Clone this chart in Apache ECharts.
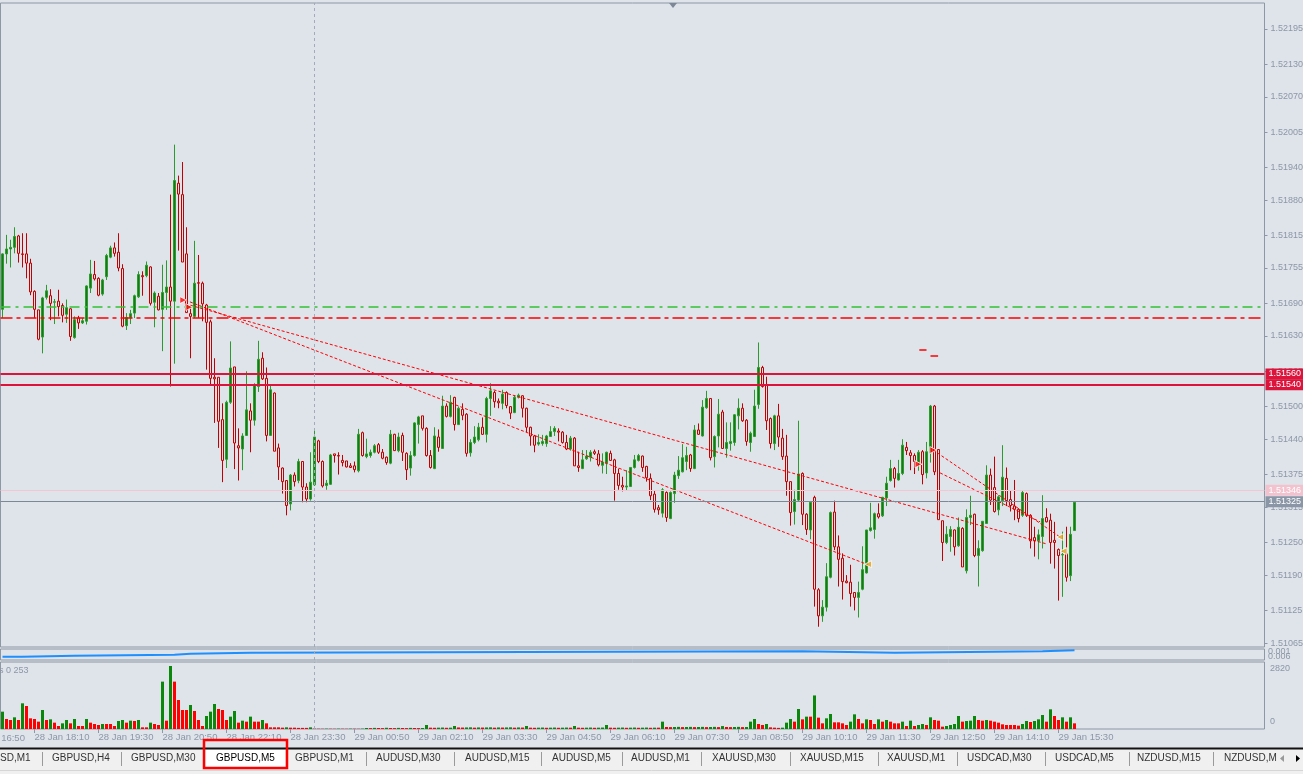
<!DOCTYPE html>
<html><head><meta charset="utf-8">
<script src="https://cdn.jsdelivr.net/npm/echarts@6/dist/echarts.min.js"></script>
<style>html,body{margin:0;padding:0;background:#dfe3ea;overflow:hidden}#c{width:1303px;height:774px}</style>
</head><body><div id="c"></div>
<script>
// ---------- DATA (GBPUSD, M5) ----------
// each row: [open, high, low, close]; first bar = 28 Jan 17:30
const ohlc = [
[1.51679,1.51782,1.51663,1.51781],[1.51781,1.51816,1.51763,1.51790],[1.51790,1.51807,1.51756,1.51793],[1.51793,1.51830,1.51782,1.51813],
[1.51814,1.51816,1.51765,1.51782],[1.51781,1.51819,1.51756,1.51780],[1.51781,1.51819,1.51736,1.51764],[1.51764,1.51772,1.51705,1.51711],
[1.51712,1.51714,1.51663,1.51679],[1.51678,1.51678,1.51622,1.51624],[1.51628,1.51702,1.51598,1.51700],[1.51701,1.51724,1.51697,1.51713],
[1.51704,1.51716,1.51659,1.51690],[1.51692,1.51698,1.51652,1.51693],[1.51694,1.51715,1.51666,1.51684],[1.51686,1.51690,1.51655,1.51668],
[1.51670,1.51697,1.51654,1.51682],[1.51680,1.51681,1.51621,1.51629],[1.51627,1.51666,1.51625,1.51660],[1.51663,1.51667,1.51643,1.51654],
[1.51654,1.51663,1.51652,1.51658],[1.51657,1.51723,1.51651,1.51722],[1.51718,1.51770,1.51709,1.51744],[1.51743,1.51768,1.51732,1.51735],
[1.51736,1.51738,1.51703,1.51705],[1.51707,1.51735,1.51704,1.51733],[1.51739,1.51781,1.51733,1.51778],[1.51775,1.51796,1.51773,1.51792],
[1.51792,1.51802,1.51776,1.51782],[1.51784,1.51819,1.51749,1.51755],[1.51754,1.51762,1.51646,1.51648],[1.51649,1.51672,1.51641,1.51664],
[1.51664,1.51678,1.51652,1.51671],[1.51672,1.51706,1.51663,1.51704],[1.51702,1.51749,1.51700,1.51743],[1.51741,1.51749,1.51704,1.51739],
[1.51741,1.51767,1.51738,1.51760],[1.51757,1.51758,1.51686,1.51690],[1.51692,1.51712,1.51646,1.51709],[1.51703,1.51709,1.51677,1.51678],
[1.51679,1.51761,1.51602,1.51710],[1.51710,1.51769,1.51678,1.51720],[1.51720,1.51890,1.51537,1.51694],[1.51694,1.51982,1.51579,1.51916],
[1.51911,1.51925,1.51787,1.51891],[1.51890,1.51950,1.51766,1.51766],[1.51781,1.51830,1.51673,1.51673],[1.51671,1.51681,1.51589,1.51666],
[1.51666,1.51805,1.51663,1.51727],[1.51728,1.51779,1.51663,1.51727],[1.51727,1.51730,1.51657,1.51689],[1.51687,1.51689,1.51568,1.51655],
[1.51656,1.51660,1.51540,1.51552],[1.51554,1.51589,1.51470,1.51551],[1.51554,1.51554,1.51424,1.51473],[1.51476,1.51506,1.51361,1.51401],
[1.51403,1.51511,1.51387,1.51508],[1.51508,1.51620,1.51505,1.51571],[1.51573,1.51573,1.51385,1.51433],[1.51428,1.51460,1.51364,1.51424],
[1.51422,1.51451,1.51383,1.51446],[1.51447,1.51565,1.51446,1.51494],[1.51492,1.51506,1.51416,1.51475],[1.51475,1.51543,1.51465,1.51540],
[1.51537,1.51621,1.51527,1.51587],[1.51589,1.51600,1.51549,1.51551],[1.51552,1.51572,1.51436,1.51447],[1.51447,1.51540,1.51447,1.51531],
[1.51525,1.51526,1.51418,1.51418],[1.51424,1.51432,1.51365,1.51389],[1.51387,1.51388,1.51340,1.51362],[1.51364,1.51364,1.51300,1.51318],
[1.51321,1.51376,1.51309,1.51374],[1.51374,1.51379,1.51353,1.51362],[1.51364,1.51404,1.51359,1.51399],[1.51399,1.51400,1.51324,1.51352],
[1.51352,1.51359,1.51324,1.51330],[1.51330,1.51416,1.51327,1.51361],[1.51356,1.51459,1.51354,1.51444],[1.51437,1.51439,1.51396,1.51399],
[1.51399,1.51401,1.51351,1.51354],[1.51355,1.51365,1.51347,1.51359],[1.51357,1.51413,1.51356,1.51411],[1.51413,1.51413,1.51397,1.51410],
[1.51410,1.51416,1.51375,1.51409],[1.51401,1.51411,1.51390,1.51397],[1.51400,1.51400,1.51388,1.51389],[1.51391,1.51396,1.51387,1.51388],
[1.51391,1.51399,1.51379,1.51384],[1.51382,1.51459,1.51379,1.51449],[1.51452,1.51454,1.51408,1.51410],[1.51408,1.51441,1.51405,1.51413],
[1.51410,1.51421,1.51406,1.51416],[1.51416,1.51431,1.51414,1.51428],[1.51430,1.51433,1.51413,1.51416],[1.51416,1.51422,1.51403,1.51405],
[1.51407,1.51408,1.51393,1.51397],[1.51396,1.51457,1.51394,1.51449],[1.51449,1.51450,1.51419,1.51419],[1.51419,1.51452,1.51416,1.51444],
[1.51447,1.51452,1.51400,1.51416],[1.51414,1.51416,1.51365,1.51384],[1.51387,1.51418,1.51373,1.51410],[1.51410,1.51471,1.51408,1.51470],
[1.51467,1.51483,1.51432,1.51481],[1.51483,1.51483,1.51456,1.51460],[1.51460,1.51462,1.51408,1.51410],[1.51410,1.51420,1.51386,1.51388],
[1.51386,1.51462,1.51385,1.51446],[1.51444,1.51458,1.51417,1.51425],[1.51423,1.51520,1.51422,1.51501],[1.51501,1.51506,1.51480,1.51482],
[1.51482,1.51521,1.51480,1.51508],[1.51517,1.51518,1.51456,1.51467],[1.51467,1.51500,1.51466,1.51497],[1.51495,1.51506,1.51475,1.51484],
[1.51486,1.51488,1.51408,1.51414],[1.51415,1.51440,1.51408,1.51434],[1.51434,1.51464,1.51431,1.51444],[1.51439,1.51470,1.51436,1.51462],
[1.51462,1.51480,1.51448,1.51449],[1.51449,1.51518,1.51434,1.51515],[1.51515,1.51543,1.51483,1.51529],[1.51526,1.51529,1.51498,1.51509],
[1.51510,1.51515,1.51497,1.51507],[1.51506,1.51531,1.51495,1.51523],[1.51526,1.51528,1.51497,1.51502],[1.51500,1.51501,1.51477,1.51488],
[1.51489,1.51521,1.51488,1.51517],[1.51517,1.51524,1.51515,1.51521],[1.51520,1.51521,1.51480,1.51497],[1.51497,1.51498,1.51453,1.51462],
[1.51462,1.51463,1.51428,1.51446],[1.51446,1.51448,1.51416,1.51429],[1.51431,1.51449,1.51428,1.51434],[1.51432,1.51448,1.51428,1.51436],
[1.51432,1.51448,1.51426,1.51446],[1.51445,1.51464,1.51445,1.51454],[1.51454,1.51464,1.51446,1.51460],[1.51455,1.51460,1.51436,1.51453],
[1.51453,1.51455,1.51432,1.51434],[1.51434,1.51448,1.51420,1.51422],[1.51422,1.51446,1.51419,1.51442],[1.51442,1.51444,1.51391,1.51391],
[1.51391,1.51417,1.51380,1.51388],[1.51386,1.51420,1.51385,1.51402],[1.51404,1.51420,1.51402,1.51409],[1.51407,1.51420,1.51399,1.51416],
[1.51417,1.51421,1.51411,1.51414],[1.51413,1.51420,1.51390,1.51393],[1.51392,1.51414,1.51377,1.51398],[1.51396,1.51417,1.51376,1.51416],
[1.51414,1.51419,1.51400,1.51401],[1.51402,1.51404,1.51327,1.51377],[1.51377,1.51386,1.51347,1.51355],[1.51355,1.51371,1.51344,1.51352],
[1.51352,1.51383,1.51345,1.51354],[1.51353,1.51388,1.51352,1.51388],[1.51388,1.51411,1.51386,1.51402],[1.51401,1.51413,1.51399,1.51410],
[1.51409,1.51410,1.51380,1.51388],[1.51390,1.51391,1.51362,1.51369],[1.51368,1.51377,1.51328,1.51336],[1.51339,1.51345,1.51305,1.51311],
[1.51314,1.51319,1.51301,1.51310],[1.51304,1.51350,1.51296,1.51347],[1.51342,1.51344,1.51288,1.51296],[1.51294,1.51344,1.51293,1.51342],
[1.51340,1.51380,1.51323,1.51374],[1.51373,1.51409,1.51367,1.51383],[1.51380,1.51431,1.51379,1.51406],[1.51399,1.51426,1.51383,1.51410],
[1.51411,1.51413,1.51380,1.51386],[1.51386,1.51466,1.51385,1.51457],[1.51457,1.51469,1.51448,1.51449],[1.51446,1.51512,1.51445,1.51499],
[1.51498,1.51529,1.51496,1.51515],[1.51515,1.51515,1.51401,1.51406],[1.51408,1.51447,1.51388,1.51445],[1.51446,1.51514,1.51425,1.51486],
[1.51490,1.51494,1.51422,1.51423],[1.51423,1.51471,1.51406,1.51434],[1.51432,1.51471,1.51419,1.51436],[1.51434,1.51486,1.51428,1.51485],
[1.51483,1.51515,1.51458,1.51497],[1.51497,1.51506,1.51472,1.51474],[1.51475,1.51477,1.51428,1.51436],[1.51434,1.51454,1.51417,1.51451],
[1.51445,1.51531,1.51444,1.51501],[1.51504,1.51618,1.51496,1.51572],[1.51572,1.51575,1.51535,1.51537],[1.51539,1.51555,1.51457,1.51474],
[1.51478,1.51480,1.51423,1.51432],[1.51432,1.51485,1.51420,1.51483],[1.51483,1.51505,1.51426,1.51444],[1.51442,1.51459,1.51402,1.51408],
[1.51409,1.51448,1.51336,1.51362],[1.51362,1.51362,1.51281,1.51305],[1.51307,1.51347,1.51283,1.51329],[1.51328,1.51474,1.51325,1.51376],
[1.51377,1.51379,1.51282,1.51302],[1.51302,1.51304,1.51264,1.51274],[1.51273,1.51325,1.51256,1.51324],[1.51333,1.51336,1.51132,1.51164],
[1.51163,1.51166,1.51095,1.51115],[1.51115,1.51144,1.51104,1.51131],[1.51131,1.51212,1.51123,1.51187],[1.51186,1.51307,1.51184,1.51305],
[1.51306,1.51327,1.51236,1.51242],[1.51242,1.51263,1.51169,1.51219],[1.51221,1.51230,1.51145,1.51178],[1.51179,1.51190,1.51175,1.51176],
[1.51177,1.51209,1.51132,1.51156],[1.51158,1.51158,1.51125,1.51149],[1.51149,1.51178,1.51112,1.51158],[1.51164,1.51243,1.51162,1.51200],
[1.51194,1.51273,1.51193,1.51273],[1.51272,1.51323,1.51270,1.51277],[1.51274,1.51305,1.51257,1.51303],[1.51303,1.51322,1.51294,1.51297],
[1.51299,1.51334,1.51297,1.51333],[1.51332,1.51371,1.51317,1.51359],[1.51364,1.51402,1.51362,1.51386],[1.51386,1.51389,1.51351,1.51368],
[1.51365,1.51402,1.51364,1.51377],[1.51377,1.51440,1.51374,1.51429],[1.51425,1.51435,1.51411,1.51419],[1.51415,1.51420,1.51383,1.51410],
[1.51410,1.51414,1.51376,1.51399],[1.51397,1.51420,1.51382,1.51416],[1.51417,1.51420,1.51357,1.51375],[1.51378,1.51435,1.51368,1.51417],
[1.51415,1.51503,1.51397,1.51501],[1.51501,1.51503,1.51374,1.51380],[1.51421,1.51421,1.51292,1.51292],[1.51290,1.51290,1.51216,1.51250],
[1.51250,1.51280,1.51247,1.51265],[1.51261,1.51280,1.51233,1.51274],[1.51273,1.51274,1.51226,1.51242],[1.51244,1.51296,1.51242,1.51278],
[1.51276,1.51278,1.51205,1.51205],[1.51198,1.51311,1.51193,1.51296],[1.51296,1.51336,1.51282,1.51300],[1.51302,1.51303,1.51223,1.51226],
[1.51226,1.51254,1.51169,1.51239],[1.51235,1.51289,1.51233,1.51289],[1.51285,1.51392,1.51284,1.51374],[1.51374,1.51386,1.51319,1.51328],
[1.51351,1.51408,1.51305,1.51307],[1.51310,1.51337,1.51300,1.51334],[1.51327,1.51429,1.51317,1.51370],[1.51368,1.51388,1.51317,1.51327],
[1.51329,1.51346,1.51307,1.51318],[1.51317,1.51365,1.51291,1.51311],[1.51311,1.51313,1.51287,1.51294],[1.51300,1.51346,1.51297,1.51342],
[1.51340,1.51342,1.51297,1.51300],[1.51300,1.51302,1.51239,1.51253],[1.51259,1.51279,1.51224,1.51253],[1.51253,1.51274,1.51219,1.51264],
[1.51261,1.51337,1.51239,1.51294],[1.51296,1.51313,1.51287,1.51288],[1.51291,1.51303,1.51211,1.51250],[1.51254,1.51288,1.51202,1.51250],
[1.51237,1.51239,1.51143,1.51226],[1.51227,1.51270,1.51150,1.51228],[1.51229,1.51279,1.51178,1.51186],[1.51189,1.51279,1.51179,1.51265],
[1.51272,1.51325,1.51272,1.51324]
];
// tick volume per bar
const volumes = [
776,448,403,523,403,1150,1030,478,448,329, 851,403,433,284,134,254,403,254,448,134,
134,448,284,224,179,224,224,224,134,358, 403,284,373,358,403,75,75,284,224,179,
2121,373,2822,2121,1299,851,851,1075,806,403, 134,582,776,1120,896,851,403,553,806,284,
373,329,553,329,329,403,254,75,75,75, 60,75,60,60,50,50,50,75,15,12,
10,15,12,10,15,12,10,15,12,10, 15,45,40,50,45,40,55,45,40,50,
45,40,50,45,40,45,179,60,55,60, 65,55,60,134,70,65,70,75,60,70,
65,70,75,60,70,65,70,75,60,70, 65,134,60,55,60,65,55,60,65,55,
60,65,60,134,60,55,60,65,55,60, 65,179,60,55,60,65,55,60,65,55,
60,65,55,60,60,329,90,85,90,95, 85,90,95,85,90,95,85,90,95,85,
130,90,85,90,95,85,90,329,448,224, 179,224,75,60,50,60,284,448,329,896,
433,553,553,1503,508,254,478,672,299,299, 254,179,329,657,448,254,433,403,224,433,
329,403,329,254,254,329,134,373,134,179, 224,179,523,403,373,105,134,179,224,582,
329,358,373,582,403,373,403,373,329,284, 209,179,179,179,149,224,358,314,358,433,
627,329,881,582,403,523,329,523,254
];
// step indicator in the small pane (change-point index, value)
const indicatorSteps = [[0,0.0021],[5,0.00274],[18,0.00337],[43,0.0040],[47,0.00465],[62,0.00554],[200,0.00465],[223,0.00554],[260,0.00617],[268,0.00617]];
const priceTicks = [1.52195,1.52130,1.52070,1.52005,1.51940,1.51880,1.51815,1.51755,1.51690,1.51630,1.51565,1.51500,1.51440,1.51375,1.51315,1.51250,1.51190,1.51125,1.51065];
const hLevels = [1.51683, 1.51663, 1.51560, 1.51540, 1.51346, 1.51325];
const hLevelTexts = ['', '', '1.51560', '1.51540', '1.51346', '1.51325'];
// trend lines: [[barIndex, price], [barIndex, price]]
const trendLines = [
  [[45.7,1.51696],[216.4,1.51209]],
  [[45.7,1.51689],[261.2,1.51247]],
  [[232.7,1.51420],[264.4,1.51260]],
  [[234.4,1.51378],[259.4,1.51288]]
];
const shortDashes = [[[229.2,1.51604],[231.0,1.51604]],[[232.0,1.51593],[233.9,1.51593]]];
const yellowMarks = [[216.4,1.51210],[264.4,1.51260],[265.2,1.51234]];
const redArrows = [[45.2,1.51696],[46.7,1.51683],[229.0,1.51394],[232.7,1.51420]];
const daySeparatorIndex = 78;
const volMaxLabel = '2820';
const tabNames = ['SD,M1','GBPUSD,H4','GBPUSD,M30','GBPUSD,M5','GBPUSD,M1','AUDUSD,M30','AUDUSD,M15','AUDUSD,M5','AUDUSD,M1','XAUUSD,M30','XAUUSD,M15','XAUUSD,M1','USDCAD,M30','USDCAD,M5','NZDUSD,M15','NZDUSD,M'];

// ---------- CATEGORIES (5-minute bars from 28 Jan 17:30) ----------
const nSlots = 316;
const cats = [];
for (let i = 0; i < nSlots; i++) {
  const t = 17 * 60 + 30 + 5 * i;
  const d = 28 + Math.floor(t / 1440), m = t % 1440;
  cats.push(d + ' Jan ' + String(Math.floor(m / 60)).padStart(2, '0') + ':' + String(m % 60).padStart(2, '0'));
}
const lastBar = ohlc.length - 1;

// ---------- STYLES / LAYOUT ----------
const BG = '#dfe3ea', AX = '#8d97a7', FRAME = '#8e97a4', FONT = 'Liberation Sans';
const levelStyles = [
  {color:'#33c233', width:1.5, type:[10,5,3,5]},
  {color:'#ff0000', width:1.5, type:[12,4,4,4]},
  {color:'#dc143c', width:2, type:'solid'},
  {color:'#dc143c', width:2, type:'solid'},
  {color:'#f3c6d2', width:1, type:'solid'},
  {color:'#7b8898', width:1, type:'solid'}
];
const levelBox = [null, null, '#dc143c', '#dc143c', '#f2c3cf', '#8a95a5'];
const sepLine = {symbol:['none','none'], silent:true, label:{show:false},
  lineStyle:{color:'#a3abb7', type:[3,3], width:1}, data:[{xAxis: daySeparatorIndex}]};

const tabX = [0,52,131,216,295,376,465,552,631,712,800,887,967,1055,1137,1224];
const tabSep = [42,121,204,287,366,454,541,622,701,790,878,957,1045,1129,1213];

const chart = echarts.init(document.getElementById('c'), null, {renderer:'canvas'});
const grids = [
  {left:0.5, top:3, width:1264, height:644},
  {left:0.5, top:649, width:1264, height:11},
  {left:0.5, top:662, width:1264, height:67}
].map(g => Object.assign(g, {show:true, borderColor:FRAME, borderWidth:1, backgroundColor:'transparent',
  containLabel:false, outerBoundsMode:'none'}));

const labelAt = (i) => i % 16 === 8 && i <= lastBar;
const catAxis = (gi, withLabels) => ({
  type:'category', gridIndex:gi, data:cats, boundaryGap:true,
  axisLine:{show:false, onZero:false},
  axisTick:{show:withLabels, alignWithLabel:true, length:4, lineStyle:{color:AX}, interval:labelAt},
  axisLabel:{show:withLabels, interval:labelAt, align:'left', margin:3,
    color:AX, fontFamily:FONT, fontSize:9.5},
  splitLine:{show:false}
});

const series = [];
series.push({
  type:'candlestick', xAxisIndex:0, yAxisIndex:0, barWidth:2,
  data: ohlc.map(r => [r[0], r[3], r[2], r[1]]),
  itemStyle:{color:'#17791a', color0:BG, borderColor:'#2b9c2b', borderColor0:'#c10000', borderWidth:1},
  markLine:{
    symbol:['none','none'], silent:true, precision:5,
    data: hLevels.map((v, i) => ({
      yAxis: v,
      lineStyle: levelStyles[i],
      label: levelBox[i] ? {show:true, position:'end', distance:1, formatter: hLevelTexts[i],
        backgroundColor: levelBox[i], color:'#ffffff', fontFamily:FONT, fontSize:9,
        padding:[1,5,1,3], lineHeight:9} : {show:false}
    })).concat([{xAxis: daySeparatorIndex, lineStyle:{color:'#a3abb7', type:[3,3], width:1}, label:{show:false}}])
  },
  z:3
});
trendLines.forEach(seg => series.push({
  type:'line', xAxisIndex:3, yAxisIndex:0, data:seg, symbol:'none', silent:true,
  lineStyle:{color:'#ff0000', width:1, type:[3,2]}, z:4
}));
shortDashes.forEach(seg => series.push({
  type:'line', xAxisIndex:3, yAxisIndex:0, data:seg, symbol:'none', silent:true,
  lineStyle:{color:'#ff0000', width:1.5}, z:4
}));
series.push({type:'scatter', xAxisIndex:3, yAxisIndex:0, data:yellowMarks, symbol:'triangle', symbolRotate:90,
  symbolSize:7, itemStyle:{color:'#e2a21c', borderColor:'#ffffff', borderWidth:1}, z:5});
series.push({type:'scatter', xAxisIndex:3, yAxisIndex:0, data:redArrows, symbol:'triangle', symbolRotate:-90,
  symbolSize:7, itemStyle:{color:'#ff0000', borderColor:'#ffffff', borderWidth:1}, z:5});
series.push({type:'line', xAxisIndex:1, yAxisIndex:1, data:indicatorSteps, step:'end', symbol:'none',
  lineStyle:{color:'#1e8fff', width:2}, markLine: sepLine});
series.push({type:'bar', xAxisIndex:2, yAxisIndex:2, barWidth:3,
  data: volumes.map((v, i) => ({value:v, itemStyle:{color: (i === 0 || v > volumes[i-1]) ? '#0b870b' : '#ff0000'}})),
  markLine: sepLine});

const gtext = (x, y, text, opts) => ({type:'text', x, y, z:100,
  style:Object.assign({text, fill:AX, font:'9px "Liberation Sans"', textVerticalAlign:'middle'}, opts||{})});
const graphic = [
  {type:'polygon', shape:{points:[[669,3],[677,3],[673,8]]}, style:{fill:'#7c8797'}, z:100},
  gtext(-30, 738, '28 Jan 16:50', {font:'9.5px "Liberation Sans"'}),
  gtext(-1, 671, 's 0 253'),
  gtext(1270, 669, volMaxLabel),
  gtext(1270, 722, '0'),
  gtext(1268, 652, '0.001'),
  gtext(1268, 657, '0.006'),
  {type:'rect', shape:{x:0, y:748, width:1303, height:26}, style:{fill:'#f0f0f0'}, z:90},
  {type:'rect', shape:{x:0, y:747.5, width:1303, height:2}, style:{fill:'#111111'}, z:91},
  {type:'rect', shape:{x:206, y:750, width:79, height:17}, style:{fill:'#ffffff'}, z:91},
  {type:'line', shape:{x1:0, y1:770.5, x2:1303, y2:770.5}, style:{stroke:'#d6d6d6', lineWidth:1}, z:91}
];
tabSep.forEach(x => graphic.push({type:'line', shape:{x1:x+0.5, y1:752, x2:x+0.5, y2:766}, style:{stroke:'#9a9a9a', lineWidth:1}, z:92}));
tabNames.forEach((t, i) => graphic.push(gtext(tabX[i], 758.5, t, {fill: i === 3 ? '#000000' : '#333333', font:'10px "Liberation Sans"', z:93})));
graphic.push({type:'rect', shape:{x:1272, y:750, width:31, height:18}, style:{fill:'#f0f0f0'}, z:95});
graphic.push({type:'polygon', shape:{points:[[1284,755],[1284,762],[1280,758.5]]}, style:{fill:'#9a9a9a'}, z:96});
graphic.push({type:'polygon', shape:{points:[[1296,755],[1296,762],[1300,758.5]]}, style:{fill:'#000000'}, z:96});
graphic.push({type:'rect', shape:{x:204, y:740, width:83, height:28}, style:{fill:'none', stroke:'#ff0000', lineWidth:2.5}, z:97});

chart.setOption({
  animation:false,
  backgroundColor:BG,
  grid: grids,
  xAxis:[catAxis(0,false), catAxis(1,false), catAxis(2,true),
    {type:'value', gridIndex:0, min:-0.5, max:nSlots-0.5, show:false, axisLine:{onZero:false}}],
  yAxis:[
    {type:'value', gridIndex:0, position:'right', min:1.510577, max:1.522426,
      axisLine:{show:false, onZero:false}, splitLine:{show:false},
      axisTick:{show:true, inside:false, length:3, lineStyle:{color:AX}, customValues:priceTicks},
      axisLabel:{customValues:priceTicks, formatter:v => v.toFixed(5), color:AX, fontFamily:FONT, fontSize:9, margin:6}},
    {type:'value', gridIndex:1, position:'right', min:0, max:0.007, show:false, axisLine:{onZero:false}},
    {type:'value', gridIndex:2, position:'right', min:0, max:3000, show:false, axisLine:{onZero:false}}
  ],
  series,
  graphic
});
</script></body></html>
